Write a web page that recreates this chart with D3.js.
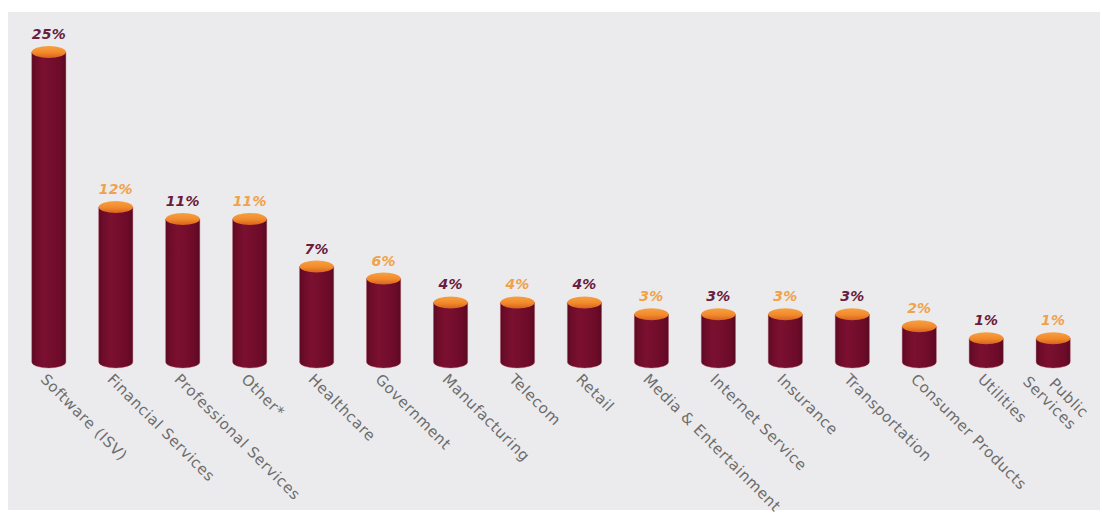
<!DOCTYPE html>
<html><head><meta charset="utf-8">
<script src="https://cdn.jsdelivr.net/npm/d3@7"></script>
<style>html,body{margin:0;padding:0;background:#fff;}svg{display:block;}</style>
</head><body>
<svg id="chart" width="1102" height="514"></svg>
<script>
const categories = ["Software (ISV)","Financial Services","Professional Services","Other*","Healthcare","Government","Manufacturing","Telecom","Retail","Media & Entertainment","Internet Service","Insurance","Transportation","Consumer Products","Utilities","Public\nServices"];
const values = [25,12,11,11,7,6,4,4,4,3,3,3,3,2,1,1];
const valueLabels = ["25%","12%","11%","11%","7%","6%","4%","4%","4%","3%","3%","3%","3%","2%","1%","1%"];

const W = 1102, H = 514;
const svg = d3.select("#chart");
svg.append("rect").attr("x",8).attr("y",12).attr("width",W-10).attr("height",H-16).attr("fill","#ebebed");

const defs = svg.append("defs");
const g1 = defs.append("linearGradient").attr("id","body").attr("x1","0").attr("x2","1");
[["0%","#5a0a22"],["12%","#6e0c2a"],["35%","#7b1030"],["55%","#760e2d"],["85%","#6c0b29"],["100%","#580a20"]].forEach(([o,c])=>g1.append("stop").attr("offset",o).attr("stop-color",c));
const g2 = defs.append("linearGradient").attr("id","cap").attr("x1","0").attr("x2","0").attr("y1","0").attr("y2","1");
[["0%","#f7a040"],["55%","#f28a2c"],["100%","#d8621c"]].forEach(([o,c])=>g2.append("stop").attr("offset",o).attr("stop-color",c));

const x = d3.scaleBand().domain(categories).range([15, 1087]).paddingInner(0.49).paddingOuter(0.25);
const y = d3.scaleLinear().domain([-1, 25]).range([362, 52]);
const bw = x.bandwidth();
const rx = bw/2, ry = 6;
const base = y(-1);

const bars = svg.append("g").selectAll("g").data(categories).join("g");
bars.append("path")
  .attr("d",(d,i)=>{
    const x0 = x(d), x1 = x0+bw, t = y(values[i]);
    return `M${x0},${t} L${x0},${base} A${rx},${ry} 0 0 0 ${x1},${base} L${x1},${t} Z`;
  })
  .attr("fill","url(#body)")
  .attr("stroke","#b04a62").attr("stroke-width",0.6).attr("stroke-opacity",0.6);
bars.append("ellipse")
  .attr("cx",d=>x(d)+rx).attr("cy",(d,i)=>y(values[i]))
  .attr("rx",rx).attr("ry",ry)
  .attr("fill","url(#cap)");

svg.append("g").selectAll("text").data(categories).join("text")
  .attr("x",d=>x(d)+rx).attr("y",(d,i)=>y(values[i])-13)
  .attr("text-anchor","middle")
  .attr("font-family","DejaVu Sans").attr("font-weight","bold").attr("font-style","italic")
  .attr("font-size",14).attr("letter-spacing","0.2")
  .attr("fill",(d,i)=> i%2===0 ? "#6a1d3c" : "#f0a24a")
  .text((d,i)=>valueLabels[i]);

const lab = svg.append("g").selectAll("text").data(categories).join("text")
  .attr("transform",d=>`translate(${x(d)+rx-6},${base+15}) rotate(45)`)
  .attr("font-family","DejaVu Sans").attr("font-size",15).attr("letter-spacing","0.6").attr("fill","#6d6d6d");
lab.each(function(d){
  const t = d3.select(this);
  const lines = d.split("\n");
  const spans = lines.map((ln,k)=> t.append("tspan").attr("x",0).attr("dy",k===0?"0.3em":"1.15em").text(ln));
  if (lines.length>1){
    const lens = spans.map(s=>s.node().getComputedTextLength());
    const m = Math.max(...lens);
    spans.forEach((s,k)=>s.attr("x", m-lens[k]-14));
  }
});
</script>
</body></html>
